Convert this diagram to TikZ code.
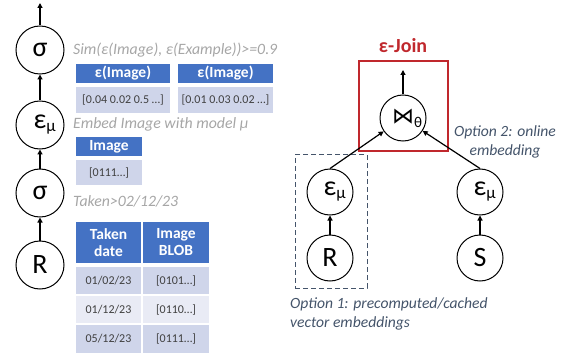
\documentclass[tikz,border=0pt]{standalone}
\usepackage{fontspec}
\setmainfont{Carlito}
\newfontfamily\symfont{DejaVu Sans}
\usetikzlibrary{arrows.meta}
\definecolor{hdrblue}{HTML}{4472C4}
\definecolor{celldark}{HTML}{CFD5EA}
\definecolor{celllight}{HTML}{E9EBF5}
\definecolor{celltext}{HTML}{404040}
\definecolor{notegray}{HTML}{A6A6A6}
\definecolor{slate}{HTML}{44546A}
\definecolor{joinred}{HTML}{C0282D}
\newcommand{\epsmu}{ε\rlap{\raisebox{-3pt}{\fontsize{17}{17}\selectfont μ}}}
\begin{document}
\begin{tikzpicture}
  [x=1pt, y=-1pt,
   op/.style={
    draw,
    circle,
    line width=1pt,
    minimum size=48pt,
    inner sep=0pt,
    font=\fontsize{28}{28}\selectfont},
   hdr/.style={
    fill=hdrblue,
    text=white,
    inner sep=0pt,
    align=center,
    font=\bfseries\fontsize{15.5}{17}\selectfont},
   cell/.style={
    fill=celldark,
    text=celltext,
    inner sep=0pt,
    font=\fontsize{12}{13}\selectfont},
   note/.style={
    anchor=west,
    inner sep=0pt,
    text=notegray,
    font=\itshape\fontsize{15.8}{17}\selectfont},
   option/.style={
    inner sep=0pt,
    text=slate,
    font=\itshape\fontsize{15.6}{18.5}\selectfont},
   arr/.style={
    line width=1.2pt,
    -{Triangle[length=5pt,width=5pt]}}]

  \useasboundingbox (0,0) rectangle (572,358);

  % left plan
  \node [op] at (40,50) (sigtop) {σ};
  \node [op] at (40,125) (epsleft) {\epsmu};
  \node [op] at (40,193) (sigbot) {σ};
  \node [op] at (40,265) (relleft) {R};
  \coordinate (outleft) at (40,3);

  \draw [arr] (sigtop) -- (outleft);
  \draw [arr] (epsleft) -- (sigtop);
  \draw [arr] (sigbot) -- (epsleft);
  \draw [arr] (relleft) -- (sigbot);

  \node [note] at (73,50) (simnote) {Sim(ε(Image), ε(Example))>=0.9};
  \node [note] at (73,124) (embnote) {Embed Image with model μ};
  \node [note] at (73,201) (takennote) {Taken>02/12/23};

  % embedding tables
  \node [hdr, minimum width=94pt, minimum height=19pt] at (123,73.5) (embAhead) {ε(Image)};
  \node [cell, minimum width=94pt, minimum height=26pt] at (123,100) (embAval) {[0.04 0.02 0.5 …]};
  \node [hdr, minimum width=95pt, minimum height=19pt] at (225.5,73.5) (embBhead) {ε(Image)};
  \node [cell, minimum width=95pt, minimum height=26pt] at (225.5,100) (embBval) {[0.01 0.03 0.02 …]};

  \node [hdr, minimum width=66pt, minimum height=19pt] at (109,146.5) (imghead) {Image};
  \node [cell, minimum width=66pt, minimum height=25pt] at (109,172.5) (imgval) {[0111…]};

  % base table
  \node [hdr, minimum width=65pt, minimum height=41pt] at (108.5,242.5) (datehead) {Taken\\date};
  \node [hdr, minimum width=66pt, minimum height=41pt] at (176,242.5) (blobhead) {Image\\BLOB};
  \node [cell, minimum width=65pt, minimum height=27pt] at (108.5,280.5) (dateA) {01/02/23};
  \node [cell, minimum width=66pt, minimum height=27pt] at (176,280.5) (blobA) {[0101…]};
  \node [cell, fill=celllight, minimum width=65pt, minimum height=27pt] at (108.5,309.5) (dateB) {01/12/23};
  \node [cell, fill=celllight, minimum width=66pt, minimum height=27pt] at (176,309.5) (blobB) {[0110…]};
  \node [cell, minimum width=65pt, minimum height=28pt] at (108.5,339) (dateC) {05/12/23};
  \node [cell, minimum width=66pt, minimum height=28pt] at (176,339) (blobC) {[0111…]};

  % right plan
  \node [draw=joinred, line width=2.5pt, minimum width=89pt, minimum height=90pt] at (403.5,106) (joinbox) {};
  \node [text=joinred, font=\bfseries\fontsize{20}{21}\selectfont] at (403,46) (joinlabel) {ε-Join};
  \node [draw=slate, line width=1pt, dash pattern=on 5pt off 3pt, minimum width=72pt, minimum height=133pt] at (331,221.5) (cachebox) {};

  \node [op, minimum size=46pt] at (403,118) (join) {{\symfont\fontsize{22}{22}\selectfont ⋈}\rlap{\raisebox{-4pt}{\fontsize{15}{15}\selectfont θ}}};
  \node [op, minimum size=46pt] at (330,192) (epsR) {\epsmu};
  \node [op, minimum size=46pt] at (330,258) (relR) {R};
  \node [op, minimum size=46pt] at (480,192) (epsS) {\epsmu};
  \node [op, minimum size=46pt] at (480,258) (relS) {S};
  \coordinate (outright) at (403,70);

  \draw [arr] (join) -- (outright);
  \draw [arr] (epsR.north) -- (join);
  \draw [arr] (epsS.north) -- (join);
  \draw [arr] (relR) -- (epsR);
  \draw [arr] (relS) -- (epsS);

  \node [option, align=center] at (505,142) (onlinenote) {Option 2: online\\embedding};
  \node [option, align=left, anchor=west] at (290,314) (cachenote) {Option 1: precomputed/cached\\vector embeddings};
\end{tikzpicture}
\end{document}
